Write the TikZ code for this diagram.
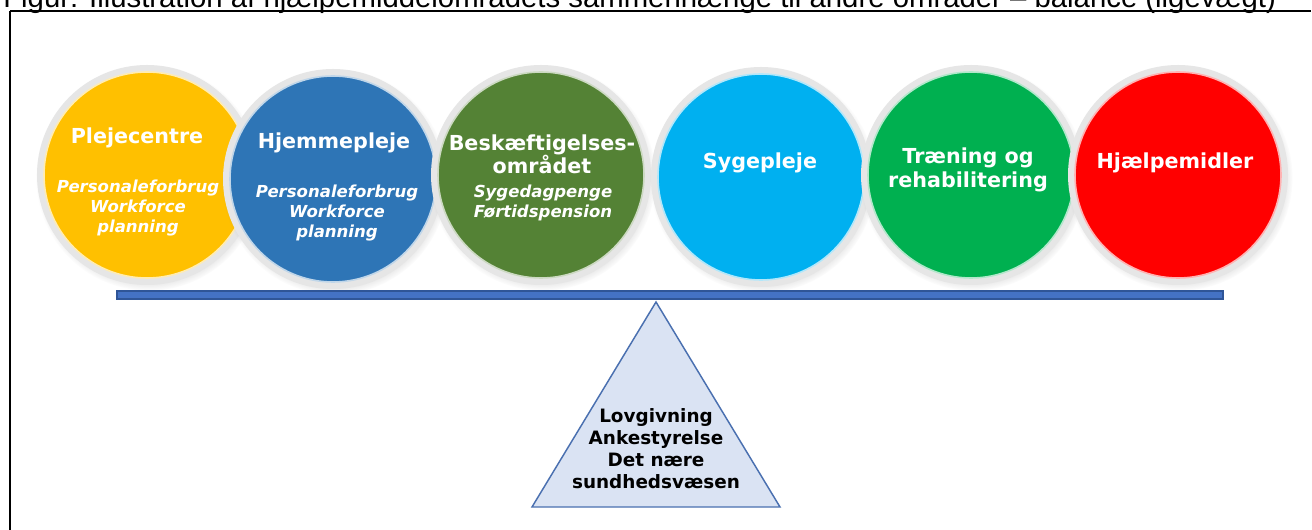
\documentclass[tikz,border=0pt]{standalone}
\usepackage{fontspec}
\setmainfont{DejaVu Sans}
\newfontfamily\capfont{Liberation Sans}
\usetikzlibrary{shadows}
\definecolor{cYel}{HTML}{FFC000}
\definecolor{cBlue}{HTML}{2E75B6}
\definecolor{cGreen}{HTML}{548235}
\definecolor{cSky}{HTML}{00B0F0}
\definecolor{cLime}{HTML}{00B050}
\definecolor{cRed}{HTML}{FF0000}
\definecolor{ringgray}{HTML}{E6E6E6}
\definecolor{barfill}{HTML}{4472C4}
\definecolor{barline}{HTML}{2F5597}
\definecolor{trifill}{HTML}{DAE3F3}
\definecolor{triline}{HTML}{4A70B0}
\begin{document}
\begin{tikzpicture}[x=0.75pt,y=-0.75pt,
  disc/.style={circle, inner sep=0pt, minimum size=159.75pt, fill=#1,
    draw=ringgray, line width=5.25pt,
    circular drop shadow={shadow xshift=1.2pt, shadow yshift=-2pt, shadow scale=1.06, opacity=0.35}},
  rim/.style={draw=#1!30!white, line width=1.2pt},
  title/.style={text=white, font=\fontsize{15.5}{17.5}\selectfont\bfseries, inner sep=0pt, align=center},
  sub/.style={text=white, font=\fontsize{12.4}{15}\selectfont\bfseries\itshape, inner sep=0pt, align=center},
  tritext/.style={text=black, font=\fontsize{13.8}{16.5}\selectfont\bfseries, inner sep=0pt, align=center},
  bar/.style={rectangle, inner sep=0pt, minimum width=829.5pt, minimum height=6pt, fill=barfill, draw=barline, line width=0.8pt},
  tri/.style={fill=trifill, draw=triline, line width=1.1pt, line join=miter}
]
\useasboundingbox (0,0) rectangle (1312,530);
\fill[white] (0,0) rectangle (1312,530);

% caption (cut at top, as in the reference)
\node[anchor=base west, inner sep=0pt, font=\capfont\fontsize{22}{26}\selectfont] (cap) at (3,8)
  {Figur: Illustration af hjælpemiddelområdets sammenhænge til andre områder – balance (ligevægt)};

% frame
\coordinate (ftl) at (10,11);
\coordinate (ftr) at (1311,11);
\coordinate (fbl) at (10,530);
\draw[line width=0.9pt] (ftl) -- (ftr);
\draw[line width=1.6pt] (ftl) -- (fbl);

% circles
\node[disc=cYel]   (c1) at (147,175) {};
\draw[rim=cYel] (c1) circle[radius=103];
\node[disc=cBlue]  (c2) at (333,179) {};
\draw[rim=cBlue] (c2) circle[radius=103];
\node[disc=cGreen] (c3) at (541,175) {};
\draw[rim=cGreen] (c3) circle[radius=103];
\node[disc=cSky]   (c4) at (761,177) {};
\draw[rim=cSky] (c4) circle[radius=103];
\node[disc=cLime]  (c5) at (971,175) {};
\draw[rim=cLime] (c5) circle[radius=103];
\node[disc=cRed]   (c6) at (1178,175) {};
\draw[rim=cRed] (c6) circle[radius=103];

% circle texts
\node[title, anchor=base] (t1) at (137,144) {Plejecentre};
\node[sub] (s1) at (138,207.8) {Personaleforbrug\\Workforce\\planning};
\node[title, anchor=base] (t2) at (334,149) {Hjemmepleje};
\node[sub] (s2) at (337,212.8) {Personaleforbrug\\Workforce\\planning};
\node[title, execute at begin node={\setlength{\baselineskip}{17.25pt}}] (t3) at (542,153.9) {Beskæftigelses-\\området};
\node[sub] (s3) at (543,202.8) {Sygedagpenge\\Førtidspension};
\node[title, anchor=base] (t4) at (760,169) {Sygepleje};
\node[title] (t5) at (968,169.8) {Træning og\\rehabilitering};
\node[title, anchor=base] (t6) at (1175,169) {Hjælpemidler};

% bar
\node[bar] (beam) at (670,295) {};

% triangle
\coordinate (apex) at (656,302);
\coordinate (bl) at (532,507);
\coordinate (br) at (780,507);
\draw[tri] (apex) -- (br) -- (bl) -- cycle;
\node[tritext] (tt) at (656,448.2) {Lovgivning\\Ankestyrelse\\Det nære\\sundhedsvæsen};
\end{tikzpicture}
\end{document}
